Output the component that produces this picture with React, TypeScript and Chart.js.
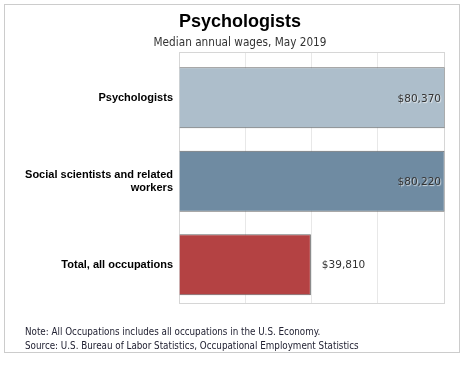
import React, { useEffect, useRef } from "react";
import { Chart, registerables } from "chart.js";

Chart.register(...registerables);

const categories = ["Psychologists", "Social scientists and related\nworkers", "Total, all occupations"];
const wages = [80370, 80220, 39810];
const barColors = ["#adbecb", "#6f8ba2", "#b44243"];
const xTicks = [0, 20000, 40000, 60000, 80000];
const titleText = "Psychologists";
const subtitleText = "Median annual wages, May 2019";
const footerLines = [
  "Note: All Occupations includes all occupations in the U.S. Economy.",
  "Source: U.S. Bureau of Labor Statistics, Occupational Employment Statistics",
];

const VERDANA = "'DejaVu Sans', Verdana, sans-serif";
const COND = "'DejaVu Sans Condensed', 'DejaVu Sans', Tahoma, sans-serif";
const ARIAL = "'Liberation Sans', Arial, sans-serif";

const framePlugin = {
  id: "frame",
  beforeDraw(chart: any) {
    const { ctx, width, height } = chart;
    ctx.save();
    ctx.fillStyle = "#ffffff";
    ctx.fillRect(0, 0, width, height);
    ctx.strokeStyle = "#cccccc";
    ctx.lineWidth = 1;
    ctx.strokeRect(4.5, 4.5, 455, 348);
    // title + subtitle
    ctx.textAlign = "center";
    ctx.textBaseline = "alphabetic";
    ctx.fillStyle = "#000000";
    ctx.font = `bold 18px ${ARIAL}`;
    ctx.fillText(titleText, 240, 27);
    ctx.fillStyle = "#333333";
    ctx.font = `11.7px ${COND}`;
    ctx.fillText(subtitleText, 240, 46);
    // footer
    ctx.textAlign = "left";
    ctx.fillStyle = "#222233";
    ctx.font = `9.75px ${COND}`;
    footerLines.forEach((l, i) => ctx.fillText(l, 25, 335 + i * 14));
    ctx.restore();
  },
  beforeDatasetsDraw(chart: any) {
    const { ctx, chartArea: a } = chart;
    ctx.save();
    ctx.strokeStyle = "#d6d6d6";
    ctx.lineWidth = 1;
    ctx.strokeRect(Math.round(a.left) + 0.5, Math.round(a.top) + 0.5, Math.round(a.right - a.left), Math.round(a.bottom - a.top));
    ctx.restore();
  },
  afterDatasetsDraw(chart: any) {
    const { ctx, chartArea: a } = chart;
    const meta = chart.getDatasetMeta(0);
    ctx.save();
    ctx.font = `10.5px ${VERDANA}`;
    ctx.textBaseline = "middle";
    meta.data.forEach((el: any, i: number) => {
      const txt = "$" + wages[i].toLocaleString("en-US");
      const w = ctx.measureText(txt).width;
      const end = Math.min(el.x, a.right);
      ctx.shadowColor = "rgba(255,255,255,0.7)";
      ctx.shadowOffsetX = 1;
      ctx.shadowOffsetY = 1;
      ctx.shadowBlur = 1;
      ctx.fillStyle = "#333333";
      if (end + 11 + w > a.right) {
        ctx.textAlign = "right";
        ctx.fillText(txt, end - 3, el.y + 1);
      } else {
        ctx.textAlign = "left";
        ctx.fillText(txt, end + 11, el.y + 1);
      }
    });
    ctx.restore();
  },
};

export default function App() {
  const ref = useRef<HTMLCanvasElement>(null);
  useEffect(() => {
    if (!ref.current) return;
    const chart = new Chart(ref.current, {
      type: "bar",
      data: {
        datasets: [
          {
            data: wages.map((v, i) => ({ x: v, y: i })),
            backgroundColor: barColors,
            borderColor: "#666666",
            borderWidth: 1,
            barPercentage: 0.731,
            categoryPercentage: 1,
            clip: 0.5,
          } as any,
        ],
      },
      options: {
        indexAxis: "y",
        animation: false,
        responsive: false,
        maintainAspectRatio: false,
        layout: { padding: { left: 5, right: 21, top: 52, bottom: 66 } },
        plugins: {
          legend: { display: false },
          title: { display: false },
          tooltip: { enabled: false },
        },
        scales: {
          x: {
            type: "linear",
            min: xTicks[0],
            max: xTicks[xTicks.length - 1],
            afterBuildTicks: (s: any) => {
              s.ticks = xTicks.map((v) => ({ value: v }));
            },
            ticks: { display: false },
            grid: { color: "#e8e8e8", drawTicks: false },
            border: { display: false },
          },
          y: {
            type: "linear",
            reverse: true,
            offset: false,
            min: -0.549,
            max: 2.459,
            afterBuildTicks: (s: any) => {
              s.ticks = categories.map((_, i) => ({ value: i }));
            },
            afterFit: (s: any) => {
              s.width = 174;
            },
            ticks: {
              padding: 6,
              color: "#000000",
              font: { family: ARIAL, size: 11, weight: "bold", lineHeight: 1.15 },
              callback: (v: any) => {
                const c = categories[Math.round(Number(v))];
                return c ? c.split("\n") : "";
              },
            },
            grid: { display: false, drawTicks: false, offset: false },
            border: { display: false },
          },
        },
      },
      plugins: [framePlugin],
    } as any);
    return () => chart.destroy();
  }, []);
  return (
    <div style={{ position: "fixed", left: 0, top: 0, width: 465, height: 369 }}>
      <canvas ref={ref} width={465} height={369} />
    </div>
  );
}
